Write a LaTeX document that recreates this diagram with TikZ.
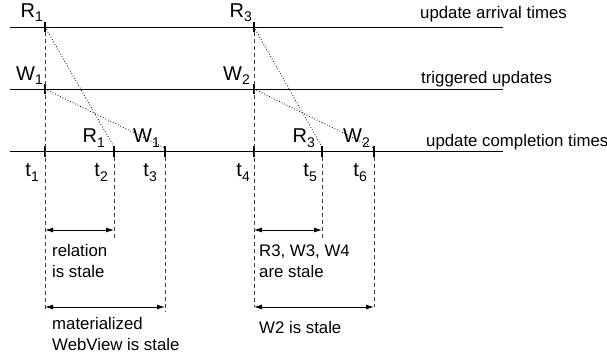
\documentclass[tikz,border=0pt]{standalone}
\usepackage{fontspec}
\setmainfont{Liberation Sans}
\usetikzlibrary{arrows.meta}
\newcommand\sbs[1]{\raisebox{-4.5pt}{\fontsize{14}{15}\selectfont #1}}
\tikzset{
  axisline/.style={line width=0.9pt},
  tick/.style={line width=1.6pt},
  vdash/.style={line width=0.8pt, black!75, dash pattern=on 4pt off 3pt},
  flow/.style={line width=0.8pt, dotted},
  span/.style={line width=0.9pt, {Latex[length=8pt,width=5pt]}-{Latex[length=8pt,width=5pt]}},
  lbl/.style={inner sep=0pt, anchor=base east, font=\fontsize{20}{22}\selectfont},
  txt/.style={inner sep=0pt, anchor=base west, align=left},
}
\begin{document}
\begin{tikzpicture}[x=1pt,y=-1pt,font=\fontsize{16.8}{20.5}\selectfont]
\useasboundingbox (0,0) rectangle (607,356);
% axis lines
\coordinate (L1a) at (10,27); \coordinate (L1b) at (503,27);
\coordinate (L2a) at (10,89); \coordinate (L2b) at (503,89);
\coordinate (L3a) at (10,151); \coordinate (L3b) at (503,151);
\draw[axisline] (L1a) -- (L1b);
\draw[axisline] (L2a) -- (L2b);
\draw[axisline] (L3a) -- (L3b);
\node[txt] (n1) at (420,18.5) {update arrival times};
\node[txt] (n2) at (421,83) {triggered updates};
\node[txt] (n3) at (426,146) {update completion times};
% crossing points
\foreach \n/\x in {1/45,4/254}{
  \coordinate (a\n) at (\x,27);
  \coordinate (b\n) at (\x,89);
  \coordinate (c\n) at (\x,151);
  \draw[tick] (\x,22) -- (\x,32);
  \draw[tick] (\x,84) -- (\x,94);
  \draw[tick] (\x,146) -- (\x,157);
}
\foreach \n/\x in {2/114,3/165,5/322,6/374}{
  \coordinate (c\n) at (\x,151);
  \draw[tick] (\x,146) -- (\x,157);
}
% bottom coordinates
\coordinate (d1) at (45,312); \coordinate (d2) at (114,239); \coordinate (d3) at (165,312);
\coordinate (d4) at (254,307); \coordinate (d5) at (322,239); \coordinate (d6) at (374,307);
% dashed verticals
\draw[vdash] (45,32) -- (d1);
\draw[vdash] (254,32) -- (d4);
\draw[vdash] (114,157) -- (d2);
\draw[vdash] (165,157) -- (d3);
\draw[vdash] (322,157) -- (d5);
\draw[vdash] (374,157) -- (d6);
% dotted flows
\draw[flow] (a1) -- (114,147);
\draw[flow] (b1) -- (165,148);
\draw[flow] (a4) -- (322,147);
\draw[flow] (b4) -- (374,148);
% labels
\node[lbl] (r1t) at (43,17.3) {R\sbs{1}};
\node[lbl] (w1t) at (43,80) {W\sbs{1}};
\node[lbl] (r3t) at (252,17.3) {R\sbs{3}};
\node[lbl] (w2t) at (250,80) {W\sbs{2}};
\node[lbl] (r1b) at (105,142.5) {R\sbs{1}};
\node[lbl] (w1b) at (160,142.5) {W\sbs{1}};
\node[lbl] (r3b) at (315,142.5) {R\sbs{3}};
\node[lbl] (w2b) at (370,142.5) {W\sbs{2}};
\node[lbl] (t1) at (39,176.7) {t\sbs{1}};
\node[lbl] (t2) at (108,176.7) {t\sbs{2}};
\node[lbl] (t3) at (157,176.7) {t\sbs{3}};
\node[lbl] (t4) at (250,176.7) {t\sbs{4}};
\node[lbl] (t5) at (317,176.7) {t\sbs{5}};
\node[lbl] (t6) at (367,176.7) {t\sbs{6}};
% spans
\coordinate (s1a) at (45,230); \coordinate (s1b) at (114,230);
\coordinate (s2a) at (45,307); \coordinate (s2b) at (165,307);
\coordinate (s3a) at (254,230); \coordinate (s3b) at (322,230);
\coordinate (s4a) at (254,307); \coordinate (s4b) at (374,307);
\draw[span] (s1a) -- (s1b);
\draw[span] (s2a) -- (s2b);
\draw[span] (s3a) -- (s3b);
\draw[span] (s4a) -- (s4b);
\node[txt] (x1) at (52,277) {relation\\is stale};
\node[txt] (x2) at (52,350) {materialized\\WebView is stale};
\node[txt] (x3) at (259,277) {R3, W3, W4\\are stale};
\node[txt] (x4) at (259,333) {W2 is stale};
\end{tikzpicture}
\end{document}
